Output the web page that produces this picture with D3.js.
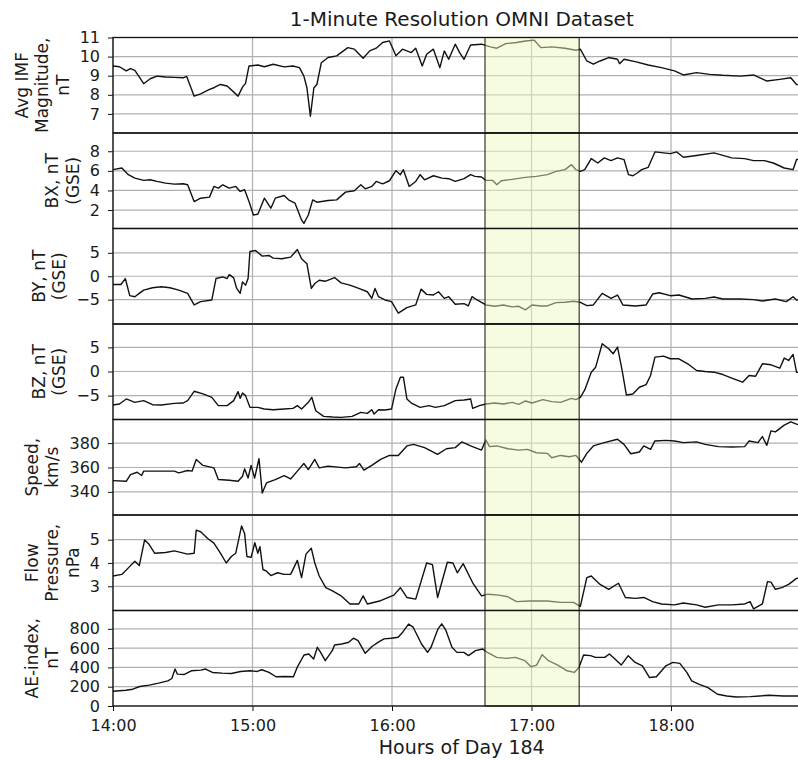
<!DOCTYPE html>
<html>
<head>
<meta charset="utf-8">
<script src="https://cdn.jsdelivr.net/npm/d3@7"></script>
<style>
  body { margin: 0; background: #fff; }
  text { font-family: "DejaVu Sans", sans-serif; fill: #1a1a1a; }
</style>
</head>
<body>
<div id="chart"></div>
<script>
var svgWidth = 798;
var svgHeight = 760;
var margin = {top: 37.5, left: 113};
var width = 697.5;        // 5 hours; the right edge runs off the picture like the original
var panelHeight = 95.5;

// time is minutes after 14:00 (day 184)
var hourTicks = [0, 60, 120, 180, 240];
var hourLabels = ["14:00", "15:00", "16:00", "17:00", "18:00"];
var highlight = [160, 200.5];

var imfTicks = [7, 8, 9, 10, 11];
var bxTicks = [2, 4, 6, 8];
var byTicks = [-5, 0, 5];
var bzTicks = [-5, 0, 5];
var speedTicks = [340, 360, 380];
var pressureTicks = [3, 4, 5];
var aeTicks = [0, 200, 400, 600, 800];

var imfData = [[0,9.51],[2.8,9.47],[5.7,9.25],[7.5,9.37],[9.4,9.28],[13.2,8.58],[16,8.84],[18.9,8.98],[22.6,8.93],[26.4,8.91],[30.2,8.89],[31.7,8.96],[34.9,7.93],[37.7,8.05],[41.5,8.28],[43.4,8.37],[46.2,8.54],[49.1,8.46],[53.8,7.93],[55.7,8.4],[57,8.6],[58.5,9.51],[62.3,9.56],[65.1,9.47],[68.9,9.6],[73.6,9.46],[77.4,9.51],[80.2,9.42],[82.1,8.98],[83.4,8.37],[84.9,6.88],[86.4,8.37],[87.7,8.54],[89.6,9.68],[92.5,9.95],[96.2,10.04],[101,10.47],[103.8,10.39],[107.6,9.91],[110.4,10.3],[113.2,10.44],[116,10.74],[118.9,10.82],[121.7,10.04],[124.5,10.39],[128.3,10.21],[130.2,10.44],[133,9.51],[134.9,10.12],[137.8,10.39],[140.6,9.42],[142.5,10.3],[144.4,9.86],[147.2,10.65],[149.1,10.21],[151,9.86],[153.8,10.61],[158.5,10.65],[162.3,10.51],[165.1,10.44],[168.9,10.68],[173.6,10.74],[177.4,10.82],[181.2,10.86],[184,10.47],[188.7,10.51],[194.4,10.44],[199.1,10.33],[201,10.39],[203.8,9.77],[206.6,9.6],[209.5,9.77],[213.2,9.95],[217,9.86],[217.9,9.63],[219.8,9.86],[224.6,9.74],[230.2,9.56],[235.9,9.42],[241.5,9.25],[245.3,9.04],[251,9.16],[256.6,9.07],[262.3,9.02],[269.8,8.98],[275.5,9.04],[281.2,8.72],[286.8,8.81],[291.5,8.89],[294,8.54],[299,8.5]];

var bxData = [[0,6.12],[3.8,6.29],[6.6,5.61],[9.4,5.26],[13.2,5.03],[16,5.09],[18.9,4.92],[22.6,4.75],[26.4,4.65],[30.2,4.68],[32.1,4.58],[34.9,2.87],[37.7,3.21],[41.5,3.32],[43.4,4.41],[45.3,4.24],[47.2,4.58],[50,4.24],[52.8,4.41],[54.7,3.9],[56.6,4.07],[58.5,2.87],[60.4,1.5],[62.3,1.57],[65.1,3.21],[67.9,2.19],[69.8,3.21],[73.6,3.49],[75.5,3.04],[78.3,2.7],[81.1,0.99],[82.1,0.65],[84,1.5],[85.9,3.04],[87.7,2.8],[92.5,2.97],[96.2,3.04],[100,3.83],[103.8,3.97],[106.6,4.58],[108.5,4.17],[111.3,4.41],[113.2,4.92],[116,4.68],[118.9,4.99],[121.7,6.02],[123.6,5.61],[124.9,6.12],[127.4,4.41],[130.2,4.92],[132.1,5.61],[134,5.09],[137.8,5.5],[141.5,5.26],[144.4,5.2],[147.2,4.92],[151,5.2],[153.8,5.61],[155.7,5.44],[158.5,5.37],[160.4,5.03],[163.2,5.03],[165.1,4.58],[167,4.99],[171.7,5.13],[177.4,5.33],[182.1,5.44],[186.8,5.61],[190.6,5.95],[194.4,6.12],[197.2,6.63],[199.1,6.12],[201,5.95],[202.9,6.12],[205.7,7.25],[208.5,6.8],[211.3,7.32],[214.2,7.04],[217,7.32],[219.8,7.15],[221.7,5.61],[223.6,5.5],[225.5,5.78],[227.4,6.12],[230.2,6.36],[233.1,7.93],[236.8,7.83],[239.7,7.76],[242.5,7.93],[245.3,7.38],[251,7.56],[258.5,7.83],[266.1,7.32],[271.7,7.25],[275.5,7.04],[280.2,7.04],[284,6.8],[288.7,6.29],[292.5,6.12],[294,7.15],[299,7.2]];

var byData = [[0,-1.76],[3.4,-1.76],[5.3,-0.49],[7.2,-4.15],[9.4,-4.37],[11.3,-3.66],[13.2,-2.96],[17,-2.46],[20.8,-2.25],[24.5,-2.46],[28.3,-2.96],[32.1,-3.66],[34.9,-6.13],[37.7,-5.42],[42.5,-5.07],[44.3,-0.49],[47.2,-0.14],[49.1,-0.49],[50,0.35],[51.9,-0.35],[53.2,-2.61],[54.7,-3.66],[55.7,-1.2],[57,-1.9],[58.1,-0.49],[58.9,5.28],[61.3,5.49],[64.2,4.3],[67,4.44],[68.9,3.87],[72.6,3.73],[76.4,4.08],[79.3,5.7],[81.1,3.73],[83.4,2.68],[85.3,-2.61],[86.8,-1.55],[88.7,-0.85],[91.5,-1.06],[95.3,-0.28],[98.1,-1.41],[101.9,-1.9],[105.7,-2.61],[109.4,-3.31],[111.3,-4.72],[112.7,-2.61],[114.2,-4.37],[117,-5.07],[119.8,-5.42],[122.7,-7.89],[126.4,-6.69],[130.2,-6.13],[132.5,-2.75],[134.9,-3.87],[137.8,-4.01],[140,-3.31],[142.5,-4.72],[144.4,-4.37],[147.2,-5.99],[151,-5.85],[152.8,-6.34],[154.4,-4.37],[156.6,-5.07],[160.4,-6.13],[164.2,-6.41],[167.9,-6.13],[171.7,-6.55],[174.5,-6.41],[177.4,-7.18],[180.2,-6.13],[184,-6.34],[186.8,-6.34],[190.6,-5.63],[194.4,-5.56],[198.1,-5.35],[201,-5.56],[203.8,-6.27],[206.6,-6.13],[210.4,-3.66],[214.2,-4.72],[217,-4.01],[219.3,-6.13],[224.6,-6.34],[229.3,-6.13],[232.1,-3.8],[234.9,-3.52],[239.7,-4.15],[243.4,-4.01],[249.1,-4.86],[254.7,-4.72],[258.5,-4.44],[262.3,-4.86],[269.8,-4.86],[275.5,-5.0],[279.3,-5.28],[284.9,-4.86],[289.6,-5.42],[292.5,-4.37],[294,-5.07],[299,-5.0]];

var bzData = [[0,-6.94],[2.8,-6.74],[5.7,-5.69],[9.4,-6.39],[13.2,-6.04],[17,-6.88],[20.8,-6.94],[26.4,-6.6],[30.2,-6.53],[32.1,-6.04],[34.9,-4.1],[38.7,-4.65],[42.5,-5.35],[45.3,-7.08],[49.1,-7.08],[51.9,-6.04],[53.8,-4.17],[54.7,-5.56],[55.7,-4.44],[57,-5.0],[58.9,-7.43],[62.3,-7.43],[65.1,-7.78],[68.9,-7.92],[73.6,-7.78],[77.4,-7.64],[79.3,-7.08],[81.1,-7.78],[84,-6.39],[85.5,-5.35],[87.2,-8.13],[90.6,-9.31],[94.4,-9.44],[98.1,-9.51],[102.8,-9.31],[106.6,-8.47],[109.4,-8.68],[111.3,-7.92],[112.3,-8.82],[114.2,-7.92],[117,-7.99],[119.8,-7.78],[121.7,-3.61],[123.6,-1.18],[124.9,-1.18],[126.4,-5.69],[128.3,-6.53],[132.1,-7.43],[135.9,-7.08],[138.7,-7.43],[142.5,-7.08],[147.2,-6.04],[151,-5.9],[153.8,-5.69],[154.7,-7.64],[157.6,-7.08],[160.4,-6.74],[164.2,-6.53],[167.9,-6.74],[171.7,-6.39],[174.5,-6.81],[177.4,-6.11],[180.2,-6.53],[184.9,-5.83],[188.7,-6.25],[192.5,-6.39],[197.2,-5.56],[199.1,-5.83],[201,-5.35],[202.9,-3.82],[205.7,-0.14],[207.6,0.9],[210.4,5.76],[213.2,4.72],[215.1,3.68],[217,5.07],[218.9,0.42],[220.8,-4.86],[223.6,-4.65],[226.4,-3.26],[229.3,-2.71],[231.2,-0.83],[233.1,2.99],[236.8,3.19],[239.7,2.64],[243.4,2.64],[247.2,1.6],[251,0.21],[254.7,0],[258.5,-0.14],[262.3,-0.63],[267,-1.53],[270.8,-2.22],[273.6,-0.83],[276.4,-0.97],[279.3,1.6],[283,1.39],[286.8,0.69],[288.7,2.78],[290.6,2.29],[292.5,3.54],[294,-0.14],[299,-0.5]];

var speedData = [[0,349.2],[5.7,348.7],[7.5,354.2],[10.4,356.1],[12.3,353.4],[13.2,357],[18.9,357],[26.4,357],[28.3,355.6],[32.1,357.5],[34,357],[35.8,366.6],[38.7,361.7],[43.4,359.7],[45.3,350.1],[50,349.5],[53.8,348.7],[55.7,352.8],[56.6,358.9],[58.1,351.4],[59.4,361.7],[60.9,351.4],[62.8,367.2],[64.2,339],[66,347.3],[69.8,350.1],[73.6,353.4],[76.4,350.6],[79.3,357],[82.1,363.3],[84,358.3],[86.8,366.6],[88.7,359.7],[92.5,361.1],[100,359.7],[104.7,360.6],[106,363.3],[107.9,357.8],[111.3,361.7],[115.1,366.6],[118.9,369.9],[122.7,369.9],[126.4,377.7],[129.3,379],[134,376.3],[139.6,370.8],[143.4,375.4],[147.2,376.3],[150,381],[153.8,377.7],[158.5,374.3],[160.4,382.6],[161.9,377.1],[165.1,377.7],[169.8,375.4],[174.5,374.3],[178.3,374.9],[182.1,372.1],[186.8,371.6],[188.7,368],[192.5,369.9],[196.2,368.8],[199.1,369.9],[201.5,364.4],[203.8,371.6],[206.6,377.7],[211.3,380.4],[217,383.2],[219.8,379],[222.7,371.3],[226.4,372.7],[228.3,377.7],[231.2,374.9],[233.1,381.8],[237.8,382.3],[241.5,381.8],[245.3,380.4],[251,381],[254.7,379],[260.4,377.1],[266.1,376.8],[271.7,377.1],[273.6,381.8],[277.4,380.4],[279.3,385.4],[281.2,378.2],[283,390.1],[284.9,389.2],[288.7,394.8],[291.5,397.5],[294,395.6],[299,393]];

var pressureData = [[0,3.44],[3.8,3.51],[6.6,3.79],[9.4,4.07],[11.3,3.89],[13.6,4.99],[15.5,4.8],[17.9,4.42],[22.6,4.45],[26.4,4.52],[32.1,4.38],[34.9,4.42],[35.8,5.41],[37.7,5.34],[40.6,5.06],[43.4,4.85],[46.2,4.42],[48.7,4.0],[50.9,4.28],[52.8,4.42],[55.3,5.59],[56.6,5.27],[57.6,4.28],[59.4,4.24],[61,4.87],[62.3,4.42],[63.2,4.7],[64.5,3.72],[66,3.65],[67.9,3.46],[70.8,3.58],[73.6,3.51],[76.4,3.51],[79.3,4.11],[81.1,3.37],[83,4.38],[85.3,4.63],[86.8,4.0],[88.7,3.44],[91.5,2.94],[94.4,2.8],[98.1,2.59],[101.9,2.24],[105.7,2.24],[107.6,2.59],[109.4,2.24],[115.1,2.38],[120.8,2.62],[123.6,2.94],[126.4,2.52],[130.2,2.45],[134.9,4.0],[137.4,3.93],[139.6,2.52],[143.8,4.03],[146.2,4.0],[148.1,3.58],[150.6,3.97],[154.7,3.15],[158.5,2.59],[161.3,2.66],[166,2.62],[169.8,2.55],[173.6,2.34],[179.3,2.37],[186.8,2.37],[192.5,2.31],[198.1,2.31],[201,2.14],[203.8,3.37],[205.7,3.44],[209.5,3.08],[213.2,2.87],[217.4,3.13],[220.4,2.52],[224.6,2.48],[228.3,2.52],[232.1,2.34],[235.9,2.24],[241.5,2.2],[245.3,2.28],[251,2.2],[254.7,2.1],[260.4,2.2],[266.1,2.2],[271.7,2.24],[274,2.34],[275.5,2.03],[279.3,2.24],[281.5,3.2],[283,3.18],[284.9,2.87],[287.7,2.94],[290.6,3.08],[294,3.34],[299,3.4]];

var aeData = [[0,153],[5.5,163],[8.5,174],[11.5,202],[15.6,216],[19.6,237],[23.6,261],[25.3,285],[26.7,383],[27.7,330],[30.7,327],[33.7,365],[37.8,372],[39.8,383],[42.8,348],[46.9,341],[50.9,337],[54.9,358],[59,365],[62,358],[64,376],[67.1,348],[70.1,303],[74.1,306],[77.6,303],[79.2,400],[81.2,487],[82.2,529],[84.2,539],[86.3,487],[87.9,609],[89.3,556],[91.3,470],[94.3,574],[95.3,633],[98.4,643],[101.4,661],[103.4,703],[105.4,678],[108.5,546],[111.5,619],[114.5,668],[116.6,696],[119.6,703],[122.6,713],[124.6,765],[127.1,849],[129.1,817],[132.7,643],[135.3,556],[136.8,609],[139.8,800],[141.4,852],[143.2,783],[145.8,609],[147.9,556],[150.9,556],[152.9,522],[155.9,574],[159,591],[161,556],[165,504],[169.1,494],[173.1,504],[177.2,470],[179.8,407],[182.2,424],[184.6,532],[187.3,470],[191.3,424],[195.3,365],[198.4,348],[200.4,400],[202.4,529],[205.4,522],[207.5,504],[211.5,504],[213.5,539],[215.9,487],[218.6,424],[221.6,522],[224.6,452],[227.7,417],[230.7,296],[233.7,303],[237.8,417],[240.8,452],[243.8,442],[246.8,348],[248.9,261],[251.9,226],[255.9,191],[260,122],[264,104],[268.1,94],[274.1,97],[278.2,104],[282.2,111],[288.3,104],[293.9,104],[299,104]];

var panels = [
  {label: ["Avg IMF", "Magnitude,", "nT"], data: imfData, domain: [6, 11], ticks: imfTicks},
  {label: ["BX, nT", "(GSE)"], data: bxData, domain: [0.12, 9.86], ticks: bxTicks},
  {label: ["BY, nT", "(GSE)"], data: byData, domain: [-10.2, 10.2], ticks: byTicks},
  {label: ["BZ, nT", "(GSE)"], data: bzData, domain: [-9.95, 9.85], ticks: bzTicks},
  {label: ["Speed,", "km/s"], data: speedData, domain: [321, 399.4], ticks: speedTicks},
  {label: ["Flow", "Pressure,", "nPa"], data: pressureData, domain: [1.96, 6.06], ticks: pressureTicks},
  {label: ["AE-index,", "nT"], data: aeData, domain: [0, 990], ticks: aeTicks}
];

var svg = d3.select("#chart")
  .append("svg")
  .attr("width", svgWidth)
  .attr("height", svgHeight);

var x = d3.scaleLinear().domain([0, 300]).range([0, width]);

var minus = d => d < 0 ? "\u2212" + (-d) : String(d);

panels.forEach(function(p, i) {
  var g = svg.append("g")
    .attr("transform", `translate(${margin.left}, ${margin.top + i * panelHeight})`);

  var y = d3.scaleLinear().domain(p.domain).range([panelHeight, 0]);

  // grid lines
  g.append("g").selectAll("line")
    .data(p.ticks)
    .enter()
    .append("line")
    .attr("x1", 0).attr("x2", width)
    .attr("y1", d => y(d)).attr("y2", d => y(d))
    .attr("stroke", "#b0b0b0")
    .attr("stroke-width", 1.2);

  g.append("g").selectAll("line")
    .data(hourTicks)
    .enter()
    .append("line")
    .attr("x1", d => x(d)).attr("x2", d => x(d))
    .attr("y1", 0).attr("y2", panelHeight)
    .attr("stroke", "#b0b0b0")
    .attr("stroke-width", 1.2);

  g.append("clipPath").attr("id", "clip" + i)
    .append("rect").attr("width", width).attr("height", panelHeight);

  var line = d3.line().x(d => x(d[0])).y(d => y(d[1]));

  g.append("path")
    .datum(p.data)
    .attr("clip-path", `url(#clip${i})`)
    .attr("fill", "none")
    .attr("stroke", "#111")
    .attr("stroke-width", 1.4)
    .attr("stroke-linejoin", "round")
    .attr("d", line);

  // shaded interval, drawn over the line like axvspan
  g.append("rect")
    .attr("x", x(highlight[0]))
    .attr("width", x(highlight[1]) - x(highlight[0]))
    .attr("y", 0)
    .attr("height", panelHeight)
    .attr("fill", "#eaf8be")
    .attr("fill-opacity", 0.48)
    .attr("stroke", "#111")
    .attr("stroke-width", 1);

  g.append("rect")
    .attr("width", width)
    .attr("height", panelHeight)
    .attr("fill", "none")
    .attr("stroke", "#111")
    .attr("stroke-width", 1.3);

  var yAxis = g.append("g")
    .call(d3.axisLeft(y).tickValues(p.ticks).tickSize(5).tickPadding(8).tickFormat(minus))
    .attr("font-size", 16);
  yAxis.select(".domain").remove();
  yAxis.selectAll("line").attr("stroke", "#111");

  // y label sits left of the widest tick label
  var left = yAxis.node().getBBox().x;
  var fs = 17, lh = fs * 1.2, n = p.label.length;
  var lab = g.append("text")
    .attr("transform", `translate(${left - 7}, ${panelHeight / 2}) rotate(-90)`)
    .attr("text-anchor", "middle")
    .attr("font-size", fs);
  p.label.forEach(function(s, k) {
    lab.append("tspan")
      .attr("x", 0)
      .attr("y", -fs * 0.24 - (n - 1 - k) * lh)
      .text(s);
  });

  if (i === panels.length - 1) {
    var xAxis = g.append("g")
      .attr("transform", `translate(0, ${panelHeight})`)
      .call(d3.axisBottom(x).tickValues(hourTicks).tickSize(5).tickPadding(9)
        .tickFormat((d, j) => hourLabels[j]))
      .attr("font-size", 16);
    xAxis.select(".domain").remove();
    xAxis.selectAll("line").attr("stroke", "#111");
  }
});

// title and x label
svg.append("text")
  .attr("x", margin.left + width / 2)
  .attr("y", 26)
  .attr("text-anchor", "middle")
  .attr("font-size", 20)
  .text("1-Minute Resolution OMNI Dataset");

svg.append("text")
  .attr("x", margin.left + width / 2)
  .attr("y", 754)
  .attr("text-anchor", "middle")
  .attr("font-size", 19)
  .text("Hours of Day 184");
</script>
</body>
</html>
